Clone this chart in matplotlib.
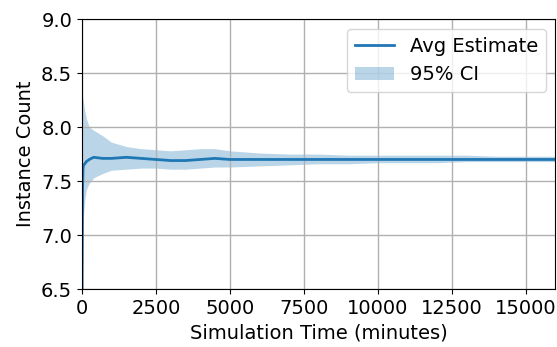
import numpy as np
import matplotlib
matplotlib.use("Agg")
import matplotlib.pyplot as plt

# simulation time (minutes) and estimates
time = [0, 10, 25, 40, 60, 100, 150, 250, 400, 700, 1000, 1500, 2000, 2500, 3000,
        3500, 4000, 4500, 5000, 6000, 7000, 8000, 9000, 10000, 11000, 12000,
        13000, 14000, 15000, 16000]
avg_estimate = [5.5, 6.6, 7.45, 7.62, 7.65, 7.66, 7.68, 7.70, 7.72, 7.71, 7.71, 7.72,
                7.71, 7.70, 7.69, 7.69, 7.70, 7.71, 7.70, 7.70, 7.70, 7.70, 7.70,
                7.70, 7.70, 7.70, 7.70, 7.70, 7.70, 7.70]
ci_upper = [8.1, 8.28, 8.28, 8.26, 8.22, 8.15, 8.08, 8.0, 7.97, 7.92, 7.86, 7.82,
            7.8, 7.79, 7.78, 7.79, 7.8, 7.8, 7.78, 7.76, 7.75, 7.75, 7.74, 7.74,
            7.74, 7.74, 7.74, 7.73, 7.73, 7.73]
ci_lower = [5.5, 6.6, 6.9, 7.1, 7.2, 7.33, 7.42, 7.48, 7.53, 7.57, 7.6, 7.61, 7.62,
            7.62, 7.61, 7.61, 7.62, 7.63, 7.63, 7.64, 7.65, 7.66, 7.66, 7.67,
            7.67, 7.67, 7.68, 7.68, 7.68, 7.68]

fig, ax = plt.subplots(figsize=(5.57, 3.47), dpi=100)
ax.plot(time, avg_estimate, color='#1f77b4', linewidth=2, label='Avg Estimate')
ax.fill_between(time, ci_lower, ci_upper, color='#1f77b4', alpha=0.3,
                linewidth=0, label='95% CI')

ax.set_xlim(0, 16000)
ax.set_ylim(6.5, 9.0)
ax.set_xticks(np.arange(0, 16000, 2500))
ax.set_yticks(np.arange(6.5, 9.01, 0.5))
ax.grid(True, color='#b0b0b0', linewidth=1)
ax.set_xlabel('Simulation Time (minutes)', fontsize=14)
ax.set_ylabel('Instance Count', fontsize=14)
ax.tick_params(labelsize=14)
ax.legend(loc='upper right', fontsize=14)

plt.subplots_adjust(left=0.147, right=0.997, top=0.945, bottom=0.167)
plt.savefig('out.png', dpi=100)
